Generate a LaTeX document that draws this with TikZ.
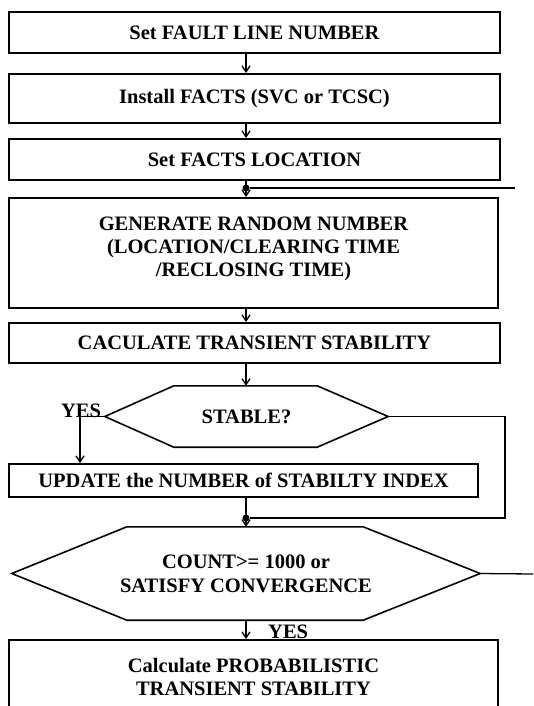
\documentclass[tikz,border=0pt]{standalone}
\usepackage{fontspec}
\setmainfont{Liberation Serif}
\usepackage{tikz}
\usetikzlibrary{arrows.meta}
\tikzset{>={Straight Barb[length=6pt,width=8pt]}}
\tikzset{procbox/.style={draw,line width=2pt,align=center,inner sep=0pt,font=\bfseries\fontsize{20.5}{23}\selectfont}}
\tikzset{decide/.style={align=center,inner sep=0pt,font=\bfseries\fontsize{20.5}{24}\selectfont}}
\tikzset{answer/.style={inner sep=0pt,font=\bfseries\fontsize{20.5}{23}\selectfont}}
\tikzset{flow/.style={line width=1.3pt}}
\tikzset{joint/.style={circle,fill,inner sep=0pt,minimum size=7pt}}

\begin{document}
\begin{tikzpicture}[x=1pt,y=-1pt]
       \useasboundingbox (0,0) rectangle (533,706);
       \clip (0,0) rectangle (533,706);
       \coordinate (col) at (246,0);
       \node[procbox,minimum width=491,minimum height=41] (fault) at (254.5,32.5) {Set FAULT LINE NUMBER};
       \node[procbox,minimum width=491,minimum height=49] (facts) at (254.5,98.5) {Install FACTS (SVC or TCSC)};
       \node[procbox,minimum width=491,minimum height=41] (loc) at (254.5,159.5) {Set FACTS LOCATION};
       \node[procbox,minimum width=489,minimum height=110] (gen) at (253.5,253) {GENERATE RANDOM NUMBER\\(LOCATION/CLEARING TIME\\/RECLOSING TIME)\\[-10pt]\mbox{}};
       \node[procbox,minimum width=491,minimum height=40] (calc) at (254.5,343) {CACULATE TRANSIENT STABILITY};
       \node[decide,minimum width=283,minimum height=61] (stable) at (246.5,416.5) {STABLE?};
       \node[procbox,minimum width=469,minimum height=33] (upd) at (243.5,480.5) {UPDATE the NUMBER of STABILTY INDEX};
       \node[decide,minimum width=468,minimum height=93] (count) at (246,573.5) {COUNT>= 1000 or\\SATISFY CONVERGENCE};
       \node[procbox,minimum width=489,minimum height=74] (prob) at (253.5,677) {Calculate PROBABILISTIC\\TRANSIENT STABILITY};
       \draw[line width=1.6pt] (stable.west) -- ([xshift=69]stable.north west) -- ([xshift=-71]stable.north east) -- (stable.east)
             -- ([xshift=-71]stable.south east) -- ([xshift=69]stable.south west) -- cycle;
       \draw[line width=1.6pt] (count.west) -- ([xshift=115]count.north west) -- ([xshift=-117]count.north east) -- (count.east)
             -- ([xshift=-117]count.south east) -- ([xshift=115]count.south west) -- cycle;
       \node[joint] (j1) at (246,188) {};
       \node[joint] (j2) at (246,518) {};
       \coordinate (back1) at (515,188);
       \coordinate (back2) at (533,574);
       \coordinate (yesturn) at (80,0);
       \coordinate (noturn) at (505,0);
       \draw[flow,->] (fault.south -| col) -- (facts.north -| col);
       \draw[flow,->] (facts.south -| col) -- (loc.north -| col);
       \draw[flow,->] (loc.south -| col) -- (gen.north -| col);
       \draw[flow] (j1) -- (back1);
       \draw[flow,->] (gen.south -| col) -- (calc.north -| col);
       \draw[flow,->] (calc.south -| col) -- (stable.north -| col);
       \draw[flow,->] (stable.west) -- (stable.west -| yesturn) -- (upd.north -| yesturn);
       \node[answer,anchor=base] (yes1) at (81,417) {YES};
       \draw[flow] (stable.east) -- (stable.east -| noturn) -- (noturn |- j2) -- (j2);
       \draw[flow,->] (upd.south -| col) -- (count.north -| col);
       \draw[flow] (count.east) -- (back2);
       \draw[flow,->] (count.south -| col) -- (prob.north -| col);
       \node[answer,anchor=base west] (yes2) at (268,638) {YES};
      \end{tikzpicture}
\end{document}
